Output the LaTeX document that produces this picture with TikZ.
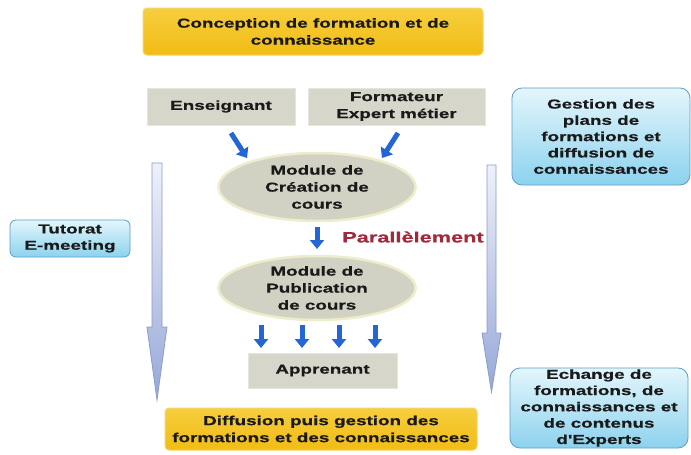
\documentclass[tikz,border=0pt]{standalone}
\usepackage{fontspec}
\newfontfamily\diag[FakeStretch=1.45,FakeBold=0.6]{Liberation Sans}
\usetikzlibrary{arrows.meta,shapes.geometric}
\definecolor{txt}{HTML}{1A1A1A}
\definecolor{ybox}{HTML}{F1BC14}
\definecolor{ytop}{HTML}{F7CE3E}
\definecolor{yline}{HTML}{F5D56E}
\definecolor{gbox}{HTML}{D6D6CA}
\definecolor{gline}{HTML}{E6E6DC}
\definecolor{ell}{HTML}{D2D2C4}
\definecolor{ellline}{HTML}{EEEDCB}
\definecolor{btop}{HTML}{E4F6FC}
\definecolor{bbot}{HTML}{8CD2EE}
\definecolor{bline}{HTML}{5C9FC6}
\definecolor{barrow}{HTML}{2466D6}
\definecolor{bigtop}{HTML}{EEF1FA}
\definecolor{bigbot}{HTML}{97A8D8}
\definecolor{bigline}{HTML}{8B9CCB}
\definecolor{redt}{HTML}{A3283E}
\tikzset{
  every node/.style={font=\diag\bfseries\fontsize{13}{17}\selectfont, text=txt, align=center, inner sep=0pt},
  yellowbox/.style={rectangle, rounded corners=4pt, top color=ytop, bottom color=ybox, draw=yline, line width=1pt},
  graybox/.style={rectangle, fill=gbox, draw=gline, line width=1pt},
  ellbox/.style={ellipse, fill=ell, draw=ellline, line width=2.5pt},
  bluebox/.style={rectangle, rounded corners=10pt, top color=btop, bottom color=bbot, draw=bline, line width=0.8pt, font=\diag\bfseries\fontsize{13}{16.3}\selectfont},
  bluearrow/.style={draw=barrow, line width=5pt, -{Triangle[width=14pt,length=9pt]}},
  bigarrow/.style={top color=bigtop, bottom color=bigbot, draw=bigline, line width=0.8pt},
}
\begin{document}
\begin{tikzpicture}[x=1pt,y=-1pt]
\useasboundingbox (0,0) rectangle (691,455);
\fill[white] (0,0) rectangle (691,455);

% big side arrows
\path[bigarrow] (152,163) -- (162,163) -- (162,327) -- (167,327) -- (157,400) -- (147,327) -- (152,327) -- cycle;
\path[bigarrow] (487,165) -- (496,165) -- (496,333) -- (501,333) -- (491.5,392) -- (482,333) -- (487,333) -- cycle;

% top & bottom
\node[yellowbox, minimum width=340pt, minimum height=47pt] (top) at (313,31.5) {Conception de formation et de\\connaissance};
\node[yellowbox, minimum width=312pt, minimum height=42pt] (bot) at (321,429) {Diffusion puis gestion des\\formations et des connaissances};

% gray boxes
\node[graybox, minimum width=148pt, minimum height=37pt] (ens) at (221,106.5) {Enseignant};
\node[graybox, minimum width=177pt, minimum height=37pt] (form) at (396.5,106.5) {Formateur\\Expert métier};
\node[graybox, minimum width=149pt, minimum height=35pt] (app) at (322.5,370.5) {Apprenant};

% ellipses
\node[ellbox, minimum width=197pt, minimum height=68pt] (crea) at (317,187) {Module de\\Création de\\cours};
\node[ellbox, minimum width=197pt, minimum height=64pt] (pub) at (317,288) {Module de\\Publication\\de cours};

% Parallèlement
\node[font=\diag\bfseries\fontsize{15}{17}\selectfont, text=redt] (par) at (413,237) {Parallèlement};

% blue boxes
\node[bluebox, minimum width=120pt, minimum height=37pt, rounded corners=6pt] (tut) at (70,238.5) {Tutorat\\E-meeting};
\node[bluebox, minimum width=178pt, minimum height=97pt] (gest) at (601,136.5) {Gestion des\\plans de\\formations et\\diffusion de\\connaissances};
\node[bluebox, minimum width=178pt, minimum height=80pt] (ech) at (599,408) {Echange de\\formations, de\\connaissances et\\de contenus\\d'Experts};

% small blue arrows
\coordinate (a1s) at (231,133);
\coordinate (a1e) at (247,158);
\coordinate (a2s) at (398,133);
\coordinate (a2e) at (382,158);
\draw[bluearrow] (a1s) -- (a1e);
\draw[bluearrow] (a2s) -- (a2e);
\draw[bluearrow] (crea.south |- 0,227) -- (crea.south |- 0,249);
\foreach \x [count=\i] in {261,302,339,375}{
  \coordinate (d\i) at (\x,325);
  \draw[bluearrow] (d\i) -- ++(0,23);
}
\end{tikzpicture}
\end{document}
